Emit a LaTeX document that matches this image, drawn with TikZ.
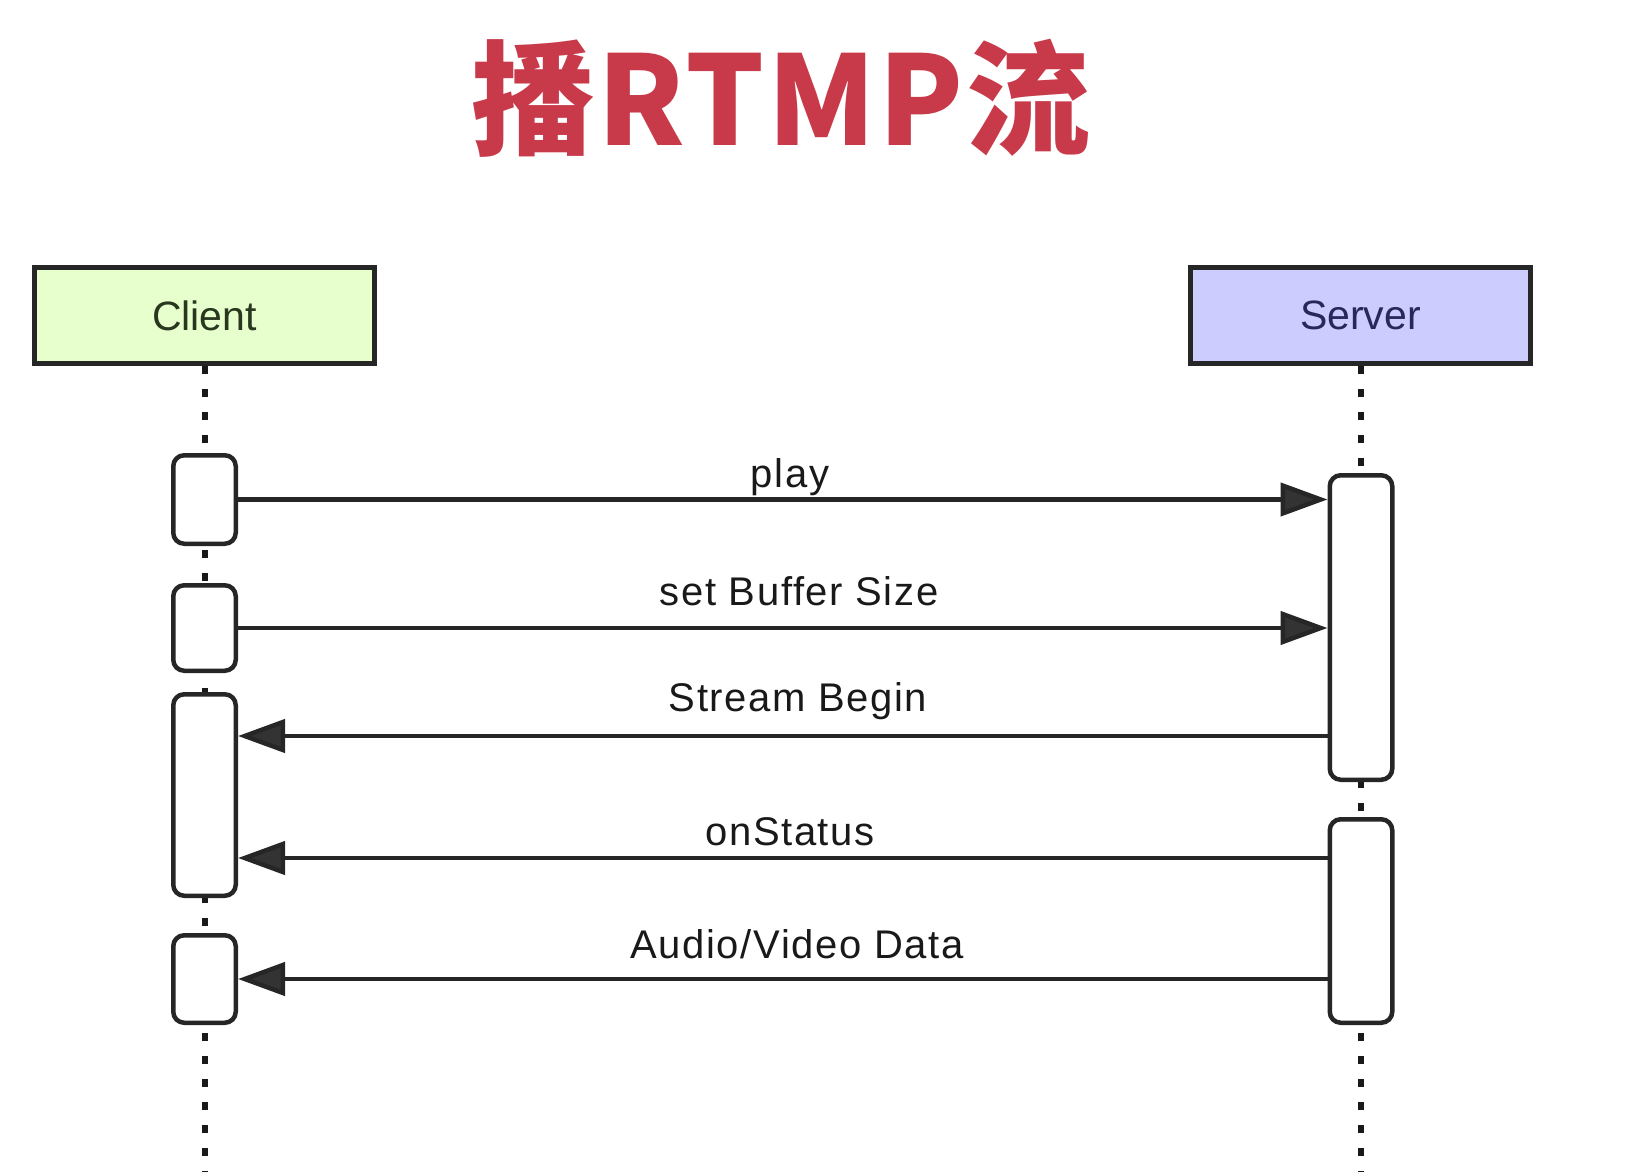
\documentclass[tikz,border=0pt]{standalone}
\usepackage{fontspec}
\setmainfont{Liberation Sans}
\newfontfamily\cjk{Noto Sans CJK SC}[LetterSpace=2]
\newfontfamily\msgfont{Liberation Sans}[LetterSpace=4]
\usetikzlibrary{arrows.meta,positioning,calc}
\definecolor{titlered}{RGB}{200,58,74}
\definecolor{clientfill}{RGB}{230,255,204}
\definecolor{serverfill}{RGB}{204,204,255}
\definecolor{clienttext}{RGB}{40,55,30}
\definecolor{servertext}{RGB}{40,40,90}

\begin{document}
\begin{tikzpicture}[x=1pt,y=-1pt,
    head/.style={draw=black!85,line width=5pt,minimum width=340pt,minimum height=96pt,inner sep=0pt,font=\fontsize{41}{41}\selectfont},
    actbox/.style={draw=black!85,fill=white,line width=4.5pt,rounded corners=11pt,minimum width=62.5pt,inner sep=0pt},
    life/.style={line width=6pt,dash pattern=on 8pt off 15pt,black!90},
    msg/.style={line width=4.5pt,draw=black!85,-{Triangle[length=47pt,width=33pt,fill=black!80]}},
    msglabel/.style={anchor=base,font=\msgfont\fontsize{40}{40}\selectfont,text=black!90}]
    \useasboundingbox (0,0) rectangle (1630,1172);
    \node[font=\cjk\bfseries\fontsize{124}{124}\selectfont,text=titlered] (title) at (781,98) {播RTMP流};
    % heads and lifelines
    \node[head,fill=clientfill,text=clienttext] (client) at (204.5,315.5) {Client};
    \node[head,fill=serverfill,text=servertext] (server) at (1360.5,315.5) {Server};
    \coordinate (bottom) at (0,1172);
    \draw[life] (client.south) -- (client.south |- bottom);
    \draw[life] (server.south) -- (server.south |- bottom);
    % activations
    \node[actbox,minimum height=88.5pt] (A1) at (204.5,499.5) {};
    \node[actbox,minimum height=85.5pt] (A2) at (204.5,628) {};
    \node[actbox,minimum height=201.5pt] (A3) at (204.5,795) {};
    \node[actbox,minimum height=87.5pt] (A4) at (204.5,979) {};
    \node[actbox,minimum height=304.5pt] (S1) at (1361,627.5) {};
    \node[actbox,minimum height=203.5pt] (S2) at (1361,921) {};
    % messages
    \coordinate (m3) at (0,736);
    \coordinate (m4) at (0,858);
    \draw[msg] (A1.east) -- (A1.east -| S1.west);
    \draw[msg] (A2.east) -- (A2.east -| S1.west);
    \draw[msg] (S1.west |- m3) -- (A3.east |- m3);
    \draw[msg] (S2.west |- m4) -- (A3.east |- m4);
    \draw[msg] (S2.west |- A4.east) -- (A4.east);
    \node[msglabel] (l1) at (790,487) {play};
    \node[msglabel] (l2) at (799,605) {set Buffer Size};
    \node[msglabel] (l3) at (798,711) {Stream Begin};
    \node[msglabel] (l4) at (790,845) {onStatus};
    \node[msglabel] (l5) at (797,958) {Audio/Video Data};
\end{tikzpicture}
\end{document}
